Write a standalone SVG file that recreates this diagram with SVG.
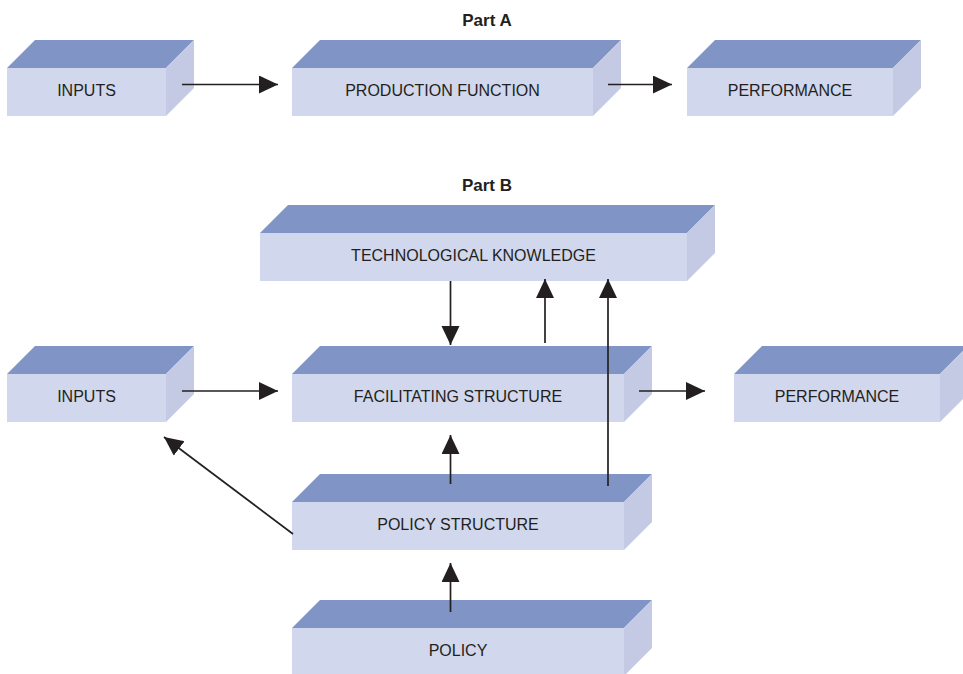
<svg xmlns="http://www.w3.org/2000/svg" width="963" height="674" viewBox="0 0 963 674">
<style>
.top{fill:#8094c6}
.front{fill:#d1d7ec}
.side{fill:#c4c9e4}
.lbl{font-family:"Liberation Sans",Arial,sans-serif;font-size:16px;fill:#231f20;text-anchor:middle}
.hdr{font-family:"Liberation Sans",Arial,sans-serif;font-size:17px;font-weight:bold;fill:#231f20;text-anchor:middle}
.con{stroke:#231f20;stroke-width:1.7;fill:none;marker-end:url(#ah)}
</style>
<defs>
<marker id="ah" markerUnits="userSpaceOnUse" markerWidth="20" markerHeight="20" refX="19" refY="9" orient="auto">
<path d="M0,0 L19,9 L0,18 Z" fill="#231f20"/>
</marker>
</defs>
<rect width="963" height="674" fill="#ffffff"/>
<text class="hdr" x="487" y="25.5">Part A</text>
<text class="hdr" x="487" y="190.5">Part B</text>

<g id="inputs-a">
<polygon class="top" points="7,68 35,40 194,40 166,68"/>
<polygon class="side" points="166,68 194,40 194,88 166,116"/>
<rect class="front" x="7" y="68" width="159" height="48"/>
<text class="lbl" x="86.5" y="96">INPUTS</text>
</g>
<g id="production-function">
<polygon class="top" points="292,68 320,40 621,40 593,68"/>
<polygon class="side" points="593,68 621,40 621,88 593,116"/>
<rect class="front" x="292" y="68" width="301" height="48"/>
<text class="lbl" x="442.5" y="96">PRODUCTION FUNCTION</text>
</g>
<g id="performance-a">
<polygon class="top" points="687,68 715,40 921,40 893,68"/>
<polygon class="side" points="893,68 921,40 921,88 893,116"/>
<rect class="front" x="687" y="68" width="206" height="48"/>
<text class="lbl" x="790" y="96">PERFORMANCE</text>
</g>

<g id="technological-knowledge">
<polygon class="top" points="260,233 288,205 715,205 687,233"/>
<polygon class="side" points="687,233 715,205 715,253 687,281"/>
<rect class="front" x="260" y="233" width="427" height="48"/>
<text class="lbl" x="473.5" y="261">TECHNOLOGICAL KNOWLEDGE</text>
</g>
<g id="inputs-b">
<polygon class="top" points="7,374 35,346 194,346 166,374"/>
<polygon class="side" points="166,374 194,346 194,394 166,422"/>
<rect class="front" x="7" y="374" width="159" height="48"/>
<text class="lbl" x="86.5" y="402">INPUTS</text>
</g>
<g id="facilitating-structure">
<polygon class="top" points="292,374 320,346 652,346 624,374"/>
<polygon class="side" points="624,374 652,346 652,394 624,422"/>
<rect class="front" x="292" y="374" width="332" height="48"/>
<text class="lbl" x="458" y="402">FACILITATING STRUCTURE</text>
</g>
<g id="performance-b">
<polygon class="top" points="734,374 762,346 968,346 940,374"/>
<polygon class="side" points="940,374 968,346 968,394 940,422"/>
<rect class="front" x="734" y="374" width="206" height="48"/>
<text class="lbl" x="837" y="402">PERFORMANCE</text>
</g>
<g id="policy-structure">
<polygon class="top" points="292,502 320,474 652,474 624,502"/>
<polygon class="side" points="624,502 652,474 652,522 624,550"/>
<rect class="front" x="292" y="502" width="332" height="48"/>
<text class="lbl" x="458" y="530">POLICY STRUCTURE</text>
</g>
<g id="policy">
<polygon class="top" points="292,628 320,600 652,600 624,628"/>
<polygon class="side" points="624,628 652,600 652,648 624,676"/>
<rect class="front" x="292" y="628" width="332" height="48"/>
<text class="lbl" x="458" y="656">POLICY</text>
</g>

<g id="connectors">
<line class="con" x1="182" y1="84.5" x2="278" y2="84.5"/>
<line class="con" x1="608" y1="84.5" x2="672" y2="84.5"/>
<line class="con" x1="450.5" y1="281" x2="450.5" y2="345"/>
<line class="con" x1="545" y1="343" x2="545" y2="279"/>
<line class="con" x1="608" y1="486" x2="608" y2="279"/>
<line class="con" x1="182" y1="391" x2="278" y2="391"/>
<line class="con" x1="639" y1="391" x2="705" y2="391"/>
<line class="con" x1="450.5" y1="484" x2="450.5" y2="435"/>
<line class="con" x1="293" y1="534" x2="164" y2="437"/>
<line class="con" x1="450.5" y1="612" x2="450.5" y2="563"/>
</g>
</svg>
